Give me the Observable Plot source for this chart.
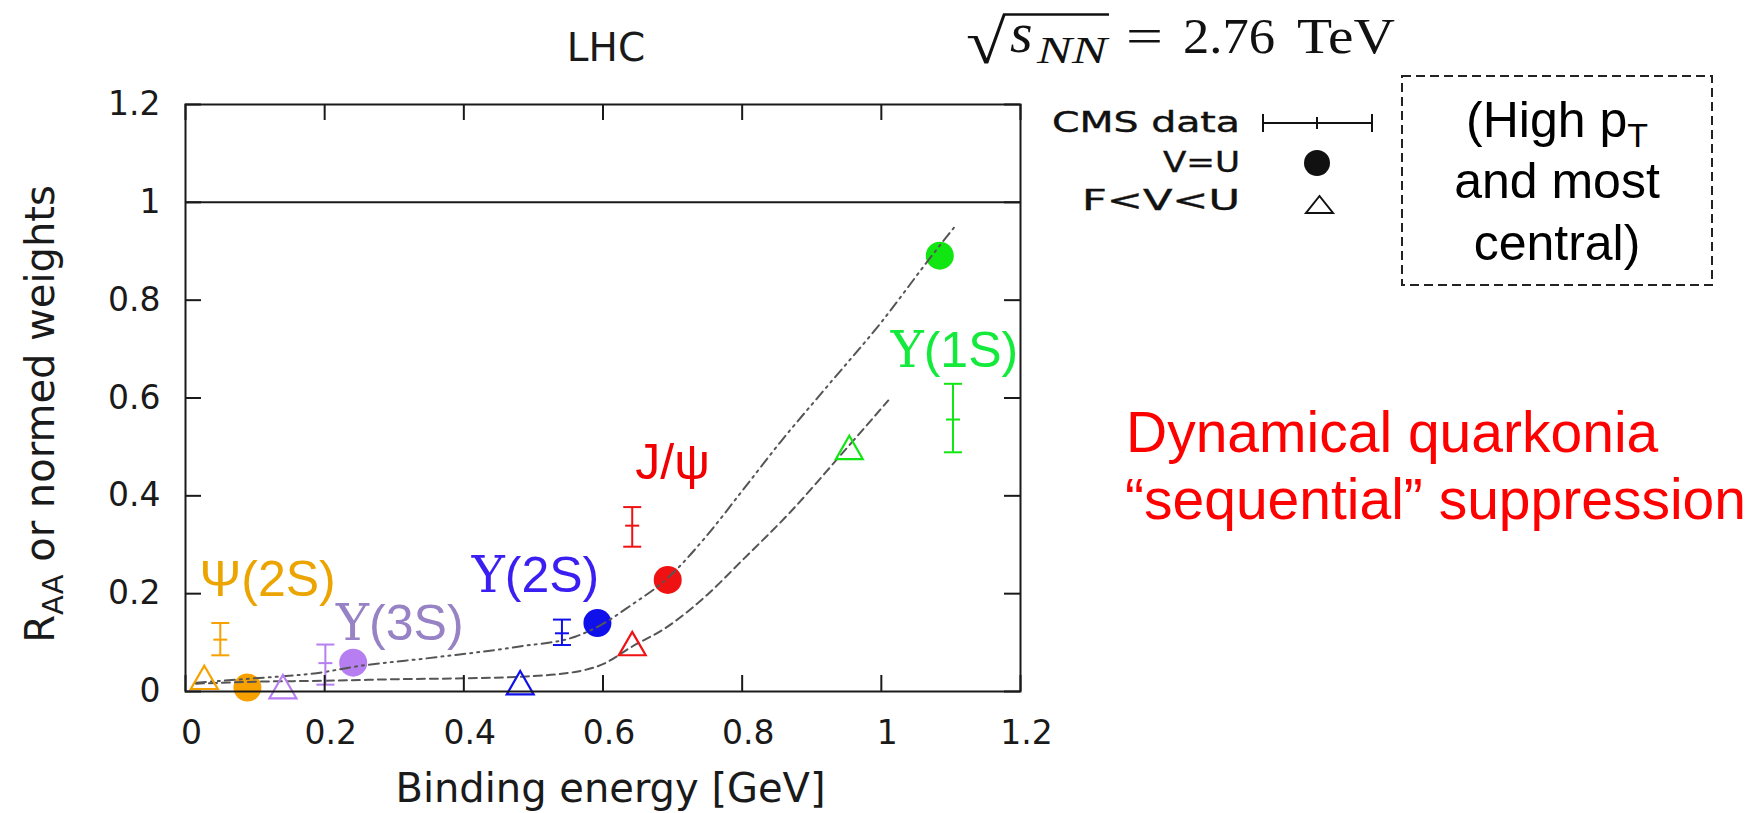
<!DOCTYPE html>
<html><head><meta charset="utf-8">
<script src="https://cdn.jsdelivr.net/npm/d3@7"></script>
<script src="https://cdn.jsdelivr.net/npm/@observablehq/plot@0.6"></script>
<style>
html,body{margin:0;padding:0;background:#fff;}
#wrap{position:relative;width:1755px;height:813px;overflow:hidden;}
#wrap svg.overlay{position:absolute;left:0;top:0;pointer-events:none;}
</style></head><body><div id="wrap"></div>
<script>
// ---------- data ----------
const states = ["Ψ(2S)", "Υ(3S)", "Υ(2S)", "J/ψ", "Υ(1S)"];
const markColors = ["#f7a100", "#b77ef2", "#1010ea", "#f01212", "#12e612"];
const labelColors = ["#eba400", "#9682c4", "#3a1ef2", "#f00000", "#14ea3c"];

// CMS data (error bars)
const cmsX = [0.050, 0.201, 0.541, 0.642, 1.103];
const cmsY = [0.106, 0.058, 0.119, 0.339, 0.556];
const cmsLow = [0.074, 0.014, 0.095, 0.296, 0.489];
const cmsHigh = [0.140, 0.096, 0.147, 0.377, 0.629];

// V=U (filled circles)
const vuX = [0.089, 0.241, 0.592, 0.693, 1.084];
const vuY = [0.008, 0.059, 0.140, 0.228, 0.891];

// F<V<U (open triangles)
const fvuX = [0.027, 0.140, 0.481, 0.642, 0.954];
const fvuY = [0.021, 0.002, 0.010, 0.090, 0.491];

// model curves
const vuCurveX = [0.015, 0.09, 0.2, 0.24, 0.36, 0.48, 0.56, 0.592, 0.64, 0.693, 0.75, 0.80, 0.855, 0.92, 1.0, 1.071, 1.107];
const vuCurveY = [0.018, 0.026, 0.040, 0.050, 0.070, 0.092, 0.112, 0.132, 0.176, 0.232, 0.32, 0.41, 0.51, 0.62, 0.755, 0.888, 0.953];
const fvuCurveX = [0.015, 0.1, 0.2, 0.3, 0.4, 0.48, 0.56, 0.60, 0.642, 0.69, 0.75, 0.80, 0.87, 0.939, 1.01];
const fvuCurveY = [0.016, 0.020, 0.022, 0.025, 0.027, 0.030, 0.040, 0.056, 0.092, 0.130, 0.198, 0.268, 0.368, 0.479, 0.595];

// state label anchors (data space)
const labelX = [0.118, 0.308, 0.503, 0.700, 1.105];
const labelY = [0.227, 0.137, 0.237, 0.468, 0.697];

// axes
const xTicks = [0, 0.2, 0.4, 0.6, 0.8, 1, 1.2];
const yTicks = [0, 0.2, 0.4, 0.6, 0.8, 1, 1.2];
const xTitle = "Binding energy [GeV]";
const yTitle = "RAA or normed weights";
const topTitle = "LHC";

// ---------- tables ----------
const cms = states.map((s, i) => ({s, x: cmsX[i], y: cmsY[i], lo: cmsLow[i], hi: cmsHigh[i], c: markColors[i]}));
const vu = states.map((s, i) => ({s, x: vuX[i], y: vuY[i], c: markColors[i]}));
const fvu = states.map((s, i) => ({s, x: fvuX[i], y: fvuY[i], c: markColors[i]}));
const vuCurve = vuCurveX.map((x, i) => ({x, y: vuCurveY[i]}));
const fvuCurve = fvuCurveX.map((x, i) => ({x, y: fvuCurveY[i]}));
const labels = states.map((s, i) => ({t: s, x: labelX[i], y: labelY[i], c: labelColors[i]}));

// ---------- layout ----------
const W = 1755, H = 813, mL = 185, mR = 735, mT = 104, mB = 122;
const fw = W - mL - mR, fh = H - mT - mB, tk = 16;
const ink = "#1a1a1a";

const capSym = {draw(ctx, size) { const w = Math.sqrt(size / Math.PI); ctx.moveTo(-w, 0); ctx.lineTo(w, 0); }};

const svg = Plot.plot({
  width: W, height: H,
  marginLeft: mL, marginRight: mR, marginTop: mT, marginBottom: mB,
  x: {domain: [0, 1.2]},
  y: {domain: [0, 1.2]},
  color: {type: "identity"},
  style: {fontFamily: "DejaVu Sans", background: "white", overflow: "visible", color: ink},
  marks: [
    Plot.ruleY([1], {y: d => d, stroke: ink, strokeWidth: 2}),
    Plot.dot(vu, {x: "x", y: "y", r: 14, fill: "c", stroke: "none"}),
    Plot.line(vuCurve, {x: "x", y: "y", curve: "monotone-x", stroke: "#555", strokeWidth: 2, strokeDasharray: "10,5,2,5,2,5"}),
    Plot.line(fvuCurve, {x: "x", y: "y", curve: "monotone-x", stroke: "#555", strokeWidth: 2, strokeDasharray: "8,5"}),
    Plot.dot(fvu, {x: "x", y: "y", r: 10, symbol: "triangle", stroke: "c", fill: "none", strokeWidth: 2.2}),
    Plot.ruleX(cms, {x: "x", y1: "lo", y2: "hi", stroke: "c", strokeWidth: 2}),
    Plot.dot(cms, {x: "x", y: "lo", r: 9, symbol: capSym, stroke: "c", fill: "none", strokeWidth: 2}),
    Plot.dot(cms, {x: "x", y: "hi", r: 9, symbol: capSym, stroke: "c", fill: "none", strokeWidth: 2}),
    Plot.dot(cms, {x: "x", y: "y", r: 7, symbol: capSym, stroke: "c", fill: "none", strokeWidth: 2}),
    Plot.text(labels, {x: "x", y: "y", text: "t", fill: "c", fontSize: 50, fontFamily: "Liberation Sans", lineAnchor: "middle"}),
    Plot.frame({stroke: ink, strokeWidth: 2}),
    Plot.ruleY(yTicks, {y: d => d, insetRight: fw - tk, stroke: ink, strokeWidth: 2}),
    Plot.ruleY(yTicks, {y: d => d, insetLeft: fw - tk, stroke: ink, strokeWidth: 2}),
    Plot.ruleX(xTicks, {x: d => d, insetTop: fh - tk, stroke: ink, strokeWidth: 2}),
    Plot.ruleX(xTicks, {x: d => d, insetBottom: fh - tk, stroke: ink, strokeWidth: 2}),
    Plot.axisX(xTicks, {tickSize: 0, tickPadding: 29, tickFormat: d => String(d), fontSize: 33, dx: 6, label: null, color: ink}),
    Plot.axisY(yTicks, {tickSize: 0, tickPadding: 25, tickFormat: d => String(d), fontSize: 33, label: null, color: ink}),
    Plot.text([topTitle], {text: d => d, frameAnchor: "top", textAnchor: "middle", dx: 3, dy: -44, lineAnchor: "bottom", fontSize: 39, fill: ink}),
    Plot.text([xTitle], {text: d => d, frameAnchor: "bottom", textAnchor: "middle", dx: 7.5, dy: 110, lineAnchor: "bottom", fontSize: 40, fill: ink}),
    Plot.text([yTitle], {text: d => d, frameAnchor: "left", textAnchor: "middle", dx: -144, dy: 16, rotate: -90, lineAnchor: "middle", fontSize: 40, fill: ink})
  ]
});

// rich text touches (subscript, serif upsilon)
const NS = "http://www.w3.org/2000/svg";
svg.querySelectorAll("text").forEach(t => {
  const s = t.textContent;
  if (s === yTitle) {
    t.textContent = "";
    t.appendChild(document.createTextNode("R"));
    const sub = document.createElementNS(NS, "tspan");
    sub.setAttribute("font-size", "29"); sub.setAttribute("dy", "9"); sub.textContent = "AA";
    t.appendChild(sub);
    const rest = document.createElementNS(NS, "tspan");
    rest.setAttribute("dy", "-9"); rest.textContent = " or normed weights";
    t.appendChild(rest);
  } else if (s.startsWith("Υ")) {
    t.textContent = "";
    const u = document.createElementNS(NS, "tspan");
    u.setAttribute("font-family", "DejaVu Serif"); u.textContent = "Υ";
    t.appendChild(u);
    t.appendChild(document.createTextNode(s.slice(1)));
  }
});

const wrap = document.getElementById("wrap");
wrap.appendChild(svg);

// annotations outside the plot frame
wrap.insertAdjacentHTML("beforeend", `
<svg class="overlay" width="${W}" height="${H}" xmlns="http://www.w3.org/2000/svg">
  <g fill="#111" font-family="Liberation Serif">
    <text x="966" y="63" font-size="62" textLength="40" lengthAdjust="spacingAndGlyphs">√</text>
    <line x1="1003" y1="14.5" x2="1109" y2="14.5" stroke="#111" stroke-width="2.5"/>
    <text x="1010" y="52" font-size="58" font-style="italic">s</text>
    <text x="1037" y="63" font-size="38" font-style="italic" textLength="70" lengthAdjust="spacingAndGlyphs">NN</text>
    <text x="1126" y="53" font-size="50" textLength="37" lengthAdjust="spacingAndGlyphs">=</text>
    <text x="1183" y="53" font-size="50" textLength="92" lengthAdjust="spacingAndGlyphs">2.76</text>
    <text x="1297" y="53" font-size="50" textLength="98" lengthAdjust="spacingAndGlyphs">TeV</text>
  </g>
  <g font-family="DejaVu Sans" font-size="28" fill="#111" stroke="#111" stroke-width="0.4" text-anchor="end">
    <text x="1240" y="132" textLength="188" lengthAdjust="spacingAndGlyphs">CMS data</text>
    <text x="1240" y="172" textLength="77" lengthAdjust="spacingAndGlyphs">V=U</text>
    <text x="1240" y="210" textLength="158" lengthAdjust="spacingAndGlyphs">F&lt;V&lt;U</text>
  </g>
  <g stroke="#111" stroke-width="2" fill="none">
    <path d="M1263,123H1372M1263,114V132M1372,114V132M1317,117V129"/>
    <path d="M1306,213L1333,213L1319.5,196Z"/>
  </g>
  <circle cx="1317" cy="163" r="13" fill="#111"/>
  <rect x="1402" y="76" width="310" height="209" fill="none" stroke="#222" stroke-width="2" stroke-dasharray="9,5"/>
  <g font-family="Liberation Sans" font-size="50" fill="#000" text-anchor="middle">
    <text x="1557" y="137">(High p<tspan font-size="34" dy="10">T</tspan></text>
    <text x="1557" y="198">and most</text>
    <text x="1557" y="260">central)</text>
  </g>
  <g font-family="Liberation Sans" font-size="57" fill="#ff0000">
    <text x="1126" y="452">Dynamical quarkonia</text>
    <text x="1125" y="519">“sequential” suppression</text>
  </g>
</svg>`);
</script></body></html>
